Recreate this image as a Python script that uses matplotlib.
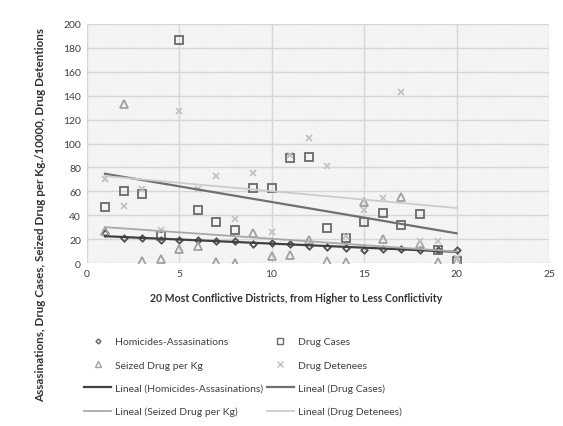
import numpy as np
import matplotlib
matplotlib.use("Agg")
import matplotlib.pyplot as plt
from matplotlib.patches import Rectangle
from matplotlib.lines import Line2D

plt.rcParams['font.family'] = ['Lato', 'DejaVu Sans']
plt.rcParams['hatch.linewidth'] = 0.5

districts = list(range(1, 21))
homicides = [25, 21, 21, 19.5, 19.5, 19, 18, 18.5, 16, 16.5, 16, 14.5, 13.5, 12.5, 11, 12, 11.5, 11, 11, 11]
drug_cases = [47, 60, 58, 23, 187, 44, 34, 27.5, 62.5, 63, 88, 89, 29.5, 21, 34, 42, 32, 41, 11, 2]
seized = [27, 133, 2, 3, 11.5, 14.5, 1, 0, 25, 6, 6.5, 19, 2, 0.5, 51, 20, 55, 16, 0.5, 2]
detenees = [70, 48, 62, 28, 127, 62, 73, 37, 75, 26, 90, 105, 81, 23, 44, 54, 143, 18, 18, 4]

xticks = [0, 5, 10, 15, 20, 25]
yticks = [0, 20, 40, 60, 80, 100, 120, 140, 160, 180, 200]

fig = plt.figure(figsize=(5.63, 4.27), dpi=100)
ax = fig.add_axes([86.5/563, 1-264/427, (549-86.5)/563, (264-25)/427])
ax.set_xlim(0, 25)
ax.set_ylim(0, 200)

ax.add_patch(Rectangle((0, 0), 1, 1, transform=ax.transAxes, facecolor='white',
                       edgecolor='#e2e2e2', hatch='\\' * 12, linewidth=0, zorder=0))
for y in yticks:
    ax.axhline(y, color='#d6d6d6', lw=1.0, zorder=1)
for x in xticks:
    ax.axvline(x, color='#d6d6d6', lw=1.0, zorder=1)

for s in ax.spines.values():
    s.set_visible(False)
ax.set_xticks(xticks)
ax.set_yticks(yticks)
ax.tick_params(length=0, labelsize=7.5, colors='#404040', pad=4)

xs = np.array(districts)
series = [
    (homicides, 'D', 3.2, '#505050', '#404040', 1.6),
    (drug_cases, 's', 6.0, '#6a6a6a', '#707070', 1.6),
    (seized, '^', 5.5, '#a0a0a0', '#a8a8a8', 1.3),
    (detenees, 'x', 5.0, '#c0c0c0', '#cccccc', 1.3),
]
for vals, mk, ms, mc, lc, lw in series:
    if mk == 'x':
        ax.plot(xs, vals, 'x', ms=ms, mew=1.2, color=mc, zorder=3)
    else:
        ax.plot(xs, vals, mk, ms=ms, mew=1.3, mec=mc, mfc='none', zorder=3)
for vals, mk, ms, mc, lc, lw in series:
    c = np.polyfit(xs, vals, 1)
    ax.plot(xs, np.polyval(c, xs), color=lc, lw=lw, zorder=4)

fig.text(296/563, 1-298/427, '20 Most Conflictive Districts, from Higher to Less Conflictivity',
         ha='center', va='center', fontsize=7.6, fontweight='bold', color='#333333')
fig.text(41/563, 1-215/427, 'Assasinations, Drug Cases, Seized Drug per Kg./10000, Drug Detentions',
         ha='center', va='center', rotation=90, fontsize=8.4, fontweight='bold', color='#333333')

h_hom = Line2D([], [], marker='D', ms=2.5, mec='#606060', mfc='none', ls='none')
h_dc = Line2D([], [], marker='s', ms=5, mec='#6a6a6a', mfc='none', ls='none')
h_sz = Line2D([], [], marker='^', ms=4.5, mec='#a0a0a0', mfc='none', ls='none')
h_dd = Line2D([], [], marker='x', ms=4.5, color='#c0c0c0', ls='none')
l_hom = Line2D([], [], color='#404040', lw=1.6)
l_dc = Line2D([], [], color='#707070', lw=1.6)
l_sz = Line2D([], [], color='#a8a8a8', lw=1.3)
l_dd = Line2D([], [], color='#cccccc', lw=1.3)
handles = [h_hom, h_sz, l_hom, l_sz, h_dc, h_dd, l_dc, l_dd]
labels = ['Homicides-Assasinations', 'Seized Drug per Kg', 'Lineal (Homicides-Assasinations)',
          'Lineal (Seized Drug per Kg)', 'Drug Cases', 'Drug Detenees', 'Lineal (Drug Cases)',
          'Lineal (Drug Detenees)']
leg = fig.legend(handles, labels, ncol=2, loc='upper left', bbox_to_anchor=(80/563, 1-334/427),
                 frameon=False, fontsize=7.5, handlelength=2.6, handletextpad=0.4,
                 columnspacing=0.3, labelspacing=1.33, borderaxespad=0)
for t in leg.get_texts():
    t.set_color('#404040')

fig.savefig('out.png', dpi=100)
